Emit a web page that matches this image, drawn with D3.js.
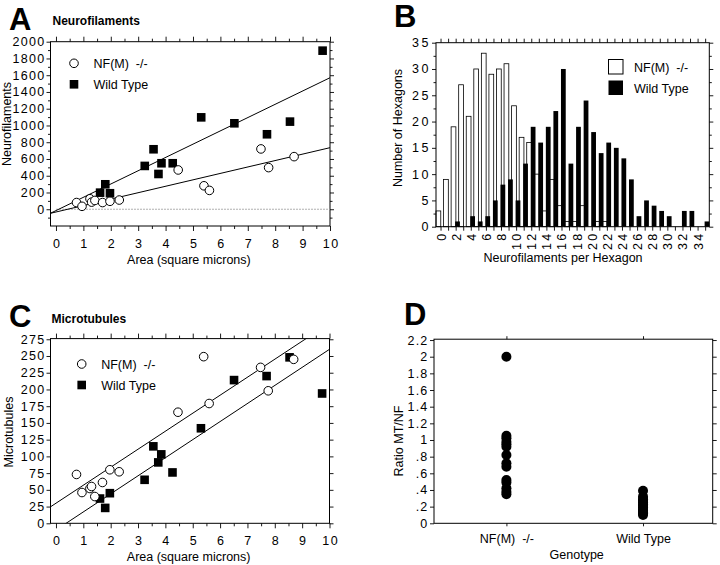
<!DOCTYPE html>
<html><head><meta charset="utf-8">
<script src="https://cdn.jsdelivr.net/npm/d3@7"></script>
<style>
body{margin:0;background:#fff}
svg text{font-family:"Liberation Sans",Arial,Helvetica,sans-serif;fill:#000}
.tick text{font-size:12.5px;letter-spacing:1.3px}
.tick line{stroke:#000;stroke-width:0.9}
.lbl{font-size:12.5px}
.ttl{font-size:12px;font-weight:bold}
.big{font-size:31px;font-weight:bold}
</style></head><body><script>
// A / C : one entry per axon
const areaKO = [0.75, 0.95, 1.24, 1.30, 1.42, 1.70, 1.97, 2.31, 4.46, 5.40, 5.60, 7.48, 7.76, 8.69];
const nfKO   = [80, 35, 125, 85, 105, 80, 95, 110, 469, 280, 225, 720, 497, 628];
const mtKO   = [73, 46, 52, 55, 40, 61, 80, 77, 166, 249, 179, 233, 198, 245];
const areaWT = [1.61, 1.80, 1.97, 3.24, 3.56, 3.74, 3.85, 4.26, 5.30, 6.51, 7.70, 8.54, 9.73];
const nfWT   = [198, 298, 191, 517, 716, 421, 549, 549, 1097, 1026, 895, 1046, 1893];
const mtWT   = [37, 23, 45, 65, 115, 91, 103, 76, 142, 214, 220, 248, 194];
// regression lines [NF(M) -/-, Wild Type]
const nfSlope = [76.8, 158.6], nfIcpt = [-33, -16];
const mtSlope = [26.9, 27.0],  mtIcpt = [30, -10];
// B : histogram, bins 0..35
const bins   = d3.range(0, 36);
const histKO = [3, 9, 19, 27, 21, 30, 33, 29, 30, 31, 23, 17, 16, 10, 3, 9, 4, 1, 1, 4, 0, 1, 1, 0, 0, 0, 0, 0, 0, 0, 0, 0, 0, 0, 0, 0];
const histWT = [0, 0, 1, 0, 2, 1, 2, 5, 8, 9, 5, 12, 19, 16, 19, 22, 30, 12, 19, 24, 18, 14, 16, 15, 13, 9, 2, 5, 4, 3, 2, 0, 3, 3, 0, 1];
// D : ratio MT/NF
const genotypes = ["NF(M)\u00a0 -/-", "Wild Type"];
const ratioKO = [2.0, 1.05, 1.02, 0.98, 0.95, 0.92, 0.82, 0.72, 0.68, 0.52, 0.49, 0.42, 0.38, 0.35];
const ratioWT = [0.39, 0.32, 0.29, 0.27, 0.25, 0.23, 0.21, 0.19, 0.17, 0.15, 0.13, 0.12, 0.10];

const svg = d3.select("body").append("svg").attr("width", 720).attr("height", 565);

function axis(gen, tx, ty, keepText) {
  const a = svg.append("g").attr("transform", `translate(${tx},${ty})`).call(gen);
  a.select(".domain").remove();
  if (!keepText) a.selectAll("text").remove();
  return a;
}
function frame(x, y) {
  const [x0, x1] = x.range(), [y0, y1] = y.range();
  svg.append("rect").attr("x", x0).attr("y", y1).attr("width", x1 - x0).attr("height", y0 - y1)
    .attr("fill", "none").attr("stroke", "#000").attr("stroke-width", 1);
}
function text(x, y, s, cls, rot) {
  const t = svg.append("text").attr("class", cls).text(s);
  if (rot) t.attr("transform", `translate(${x},${y}) rotate(-90)`).attr("text-anchor", "middle");
  else t.attr("x", x).attr("y", y);
  return t;
}

function scatterPanel(o) {
  const { x, y } = o;
  const clip = "clip" + o.id;
  svg.append("clipPath").attr("id", clip).append("rect")
    .attr("x", x.range()[0]).attr("y", y.range()[1])
    .attr("width", x.range()[1] - x.range()[0]).attr("height", y.range()[0] - y.range()[1]);

  axis(d3.axisBottom(x).tickValues(d3.range(0, 11)).tickSize(5).tickPadding(8), 0, y.range()[0], true)
    .selectAll("text").attr("dx", "0.7px").style("letter-spacing", "1.6px");
  axis(d3.axisBottom(x).tickValues(d3.range(0.5, 10, 1)).tickSize(3), 0, y.range()[0]);
  axis(d3.axisTop(x).tickValues(d3.range(0, 11)).tickSize(5), 0, y.range()[1]);
  axis(d3.axisTop(x).tickValues(d3.range(0.5, 10, 1)).tickSize(3), 0, y.range()[1]);
  axis(d3.axisLeft(y).tickValues(o.yTicks).tickFormat(d3.format("d")).tickSize(4).tickPadding(1), x.range()[0], 0, true);
  axis(d3.axisRight(y).tickValues(o.yTicks).tickSize(4), x.range()[1], 0);
  if (o.yMinor) {
    axis(d3.axisLeft(y).tickValues(o.yMinor).tickSize(2.5), x.range()[0], 0);
    axis(d3.axisRight(y).tickValues(o.yMinor).tickSize(2.5), x.range()[1], 0);
  }
  frame(x, y);

  if (o.zeroLine) {
    svg.append("line").attr("x1", x(0)).attr("x2", x(10)).attr("y1", y(0)).attr("y2", y(0))
      .attr("stroke", "#999").attr("stroke-width", 0.8).attr("stroke-dasharray", "2,1");
  }
  const lg = svg.append("g").attr("clip-path", `url(#${clip})`);
  o.slope.forEach((m, i) => {
    const b = o.icpt[i];
    lg.append("line").attr("x1", x(-0.2)).attr("x2", x(10))
      .attr("y1", y(b - 0.2 * m)).attr("y2", y(b + 10 * m))
      .attr("stroke", "#000").attr("stroke-width", 1);
  });

  const s = 8.6;
  svg.append("g").selectAll("rect").data(o.areaWT).join("rect")
    .attr("x", (d) => x(d) - s / 2).attr("y", (d, i) => y(o.valWT[i]) - s / 2)
    .attr("width", s).attr("height", s).attr("fill", "#000");
  svg.append("g").selectAll("circle").data(o.areaKO).join("circle")
    .attr("cx", (d) => x(d)).attr("cy", (d, i) => y(o.valKO[i])).attr("r", 4.3)
    .attr("fill", "#fff").attr("stroke", "#000").attr("stroke-width", 1);

  // legend
  const [lx, ly] = o.legend;
  svg.append("circle").attr("cx", lx).attr("cy", ly).attr("r", 4.3)
    .attr("fill", "#fff").attr("stroke", "#000");
  svg.append("rect").attr("x", lx - s / 2).attr("y", ly + 21 - s / 2).attr("width", s).attr("height", s);
  text(lx + 19.5, ly + 4.5, genotypes[0], "lbl");
  text(lx + 19.5, ly + 25.5, genotypes[1], "lbl");

  text(o.letter[0], o.letter[1], o.id, "big");
  text(o.title[0], o.title[1], o.titleText, "ttl");
  text(x(4.85), y.range()[0] + 38, "Area (square microns)", "lbl").attr("text-anchor", "middle");
  text(o.yTitle[0], o.yTitle[1], o.yTitleText, "lbl", true);
}

// ---- A
scatterPanel({
  id: "A",
  x: d3.scaleLinear().domain([-0.2, 10]).range([50.5, 330]),
  y: d3.scaleLinear().domain([-200, 2000]).range([226, 41.7]),
  yTicks: d3.range(0, 2001, 200), yMinor: d3.range(-100, 2000, 200),
  areaKO, valKO: nfKO, areaWT, valWT: nfWT,
  slope: nfSlope, icpt: nfIcpt, zeroLine: true,
  legend: [74, 63.3], letter: [9, 30], title: [52.5, 25], titleText: "Neurofilaments",
  yTitle: [10.5, 124], yTitleText: "Neurofilaments"
});

// ---- C
scatterPanel({
  id: "C",
  x: d3.scaleLinear().domain([-0.2, 10]).range([50.5, 329.5]),
  y: d3.scaleLinear().domain([0, 276]).range([523.3, 338.6]),
  yTicks: d3.range(0, 276, 25),
  areaKO, valKO: mtKO, areaWT, valWT: mtWT,
  slope: mtSlope, icpt: mtIcpt, zeroLine: false,
  legend: [81.7, 364], letter: [9, 327], title: [51.5, 323], titleText: "Microtubules",
  yTitle: [13, 432], yTitleText: "Microtubules"
});

// ---- B
{
  const x = d3.scaleLinear().domain([-0.6, 35.55]).range([436, 709.3]);
  const y = d3.scaleLinear().domain([0, 35]).range([226.7, 42.7]);
  const bx = axis(d3.axisBottom(x).tickValues(bins).tickSize(4).tickPadding(3)
    .tickFormat((d) => (d % 2 === 0 && d < 35 ? d : "")), 0, y.range()[0], true);
  bx.selectAll("text").attr("transform", "rotate(-90)").attr("text-anchor", "end")
    .attr("x", -5).attr("y", 0).attr("dy", "0.36em").style("letter-spacing", "2.2px");
  axis(d3.axisTop(x).tickValues(bins).tickSize(4), 0, y.range()[1]);
  axis(d3.axisLeft(y).tickValues(d3.range(0, 36, 5)).tickSize(4).tickPadding(1), x.range()[0], 0, true)
    .selectAll("text").style("letter-spacing", "2.5px");
  axis(d3.axisLeft(y).tickValues(d3.range(2.5, 35, 5)).tickSize(2.5), x.range()[0], 0);
  axis(d3.axisRight(y).tickValues(d3.range(0, 36, 5)).tickSize(4), x.range()[1], 0);
  axis(d3.axisRight(y).tickValues(d3.range(2.5, 35, 5)).tickSize(2.5), x.range()[1], 0);

  svg.append("g").selectAll("rect").data(bins.filter((b) => histKO[b] > 0)).join("rect")
    .attr("x", (b) => x(b - 0.6)).attr("width", x(0.03) - x(-0.6))
    .attr("y", (b) => y(histKO[b])).attr("height", (b) => y(0) - y(histKO[b]))
    .attr("fill", "#fff").attr("stroke", "#000").attr("stroke-width", 0.8);
  svg.append("g").selectAll("rect").data(bins.filter((b) => histWT[b] > 0)).join("rect")
    .attr("x", (b) => x(b - 0.07)).attr("width", (b) => Math.min(x(0.56), x.range()[1] - x(b) + x(0)) - x(-0.07))
    .attr("y", (b) => y(histWT[b])).attr("height", (b) => y(0) - y(histWT[b]))
    .attr("fill", "#000");
  frame(x, y);

  svg.append("rect").attr("x", 608.5).attr("y", 59.5).attr("width", 14.5).attr("height", 14.5)
    .attr("fill", "#fff").attr("stroke", "#000");
  svg.append("rect").attr("x", 608.5).attr("y", 80.5).attr("width", 14.5).attr("height", 14.5).attr("fill", "#000");
  text(634, 71.5, genotypes[0], "lbl");
  text(634, 92.5, genotypes[1], "lbl");

  text(394, 27, "B", "big");
  text(563, 261.5, "Neurofilaments per Hexagon", "lbl").attr("text-anchor", "middle");
  text(401.5, 128, "Number of Hexagons", "lbl", true);
}

// ---- D
{
  const x = d3.scaleLinear().domain([0.47, 2.51]).range([434, 712.7]);
  const y = d3.scaleLinear().domain([0, 2.21]).range([523.3, 339.2]);
  const yt = d3.range(0, 2.21, 0.2).map((v) => +v.toFixed(1));
  const fmt = (d) => (d === 0 ? "0" : d3.format(".1f")(d).replace(/^0/, "").replace(/\.0$/, ""));
  axis(d3.axisLeft(y).tickValues(yt).tickFormat(fmt).tickSize(4).tickPadding(1.5), x.range()[0], 0, true)
    .selectAll("text").style("letter-spacing", "1.2px");
  axis(d3.axisRight(y).tickValues(yt).tickSize(4), x.range()[1], 0);
  const gx = axis(d3.axisBottom(x).tickValues([1, 2]).tickFormat((d) => genotypes[d - 1])
    .tickSize(3).tickPadding(8), 0, y.range()[0], true);
  gx.selectAll("text").attr("class", "lbl").style("letter-spacing", "0px").style("font-size", "12.5px");
  axis(d3.axisTop(x).tickValues([1, 2]).tickSize(3), 0, y.range()[1]);
  frame(x, y);

  svg.append("g").selectAll("circle").data(ratioKO).join("circle")
    .attr("cx", x(1)).attr("cy", (d) => y(d)).attr("r", 5).attr("fill", "#000");
  svg.append("g").selectAll("circle").data(ratioWT).join("circle")
    .attr("cx", x(2)).attr("cy", (d) => y(d)).attr("r", 5).attr("fill", "#000");

  text(404, 325, "D", "big");
  text(576.7, 559, "Genotype", "lbl").attr("text-anchor", "middle");
  text(402.5, 441, "Ratio MT/NF", "lbl", true);
}
</script></body></html>
